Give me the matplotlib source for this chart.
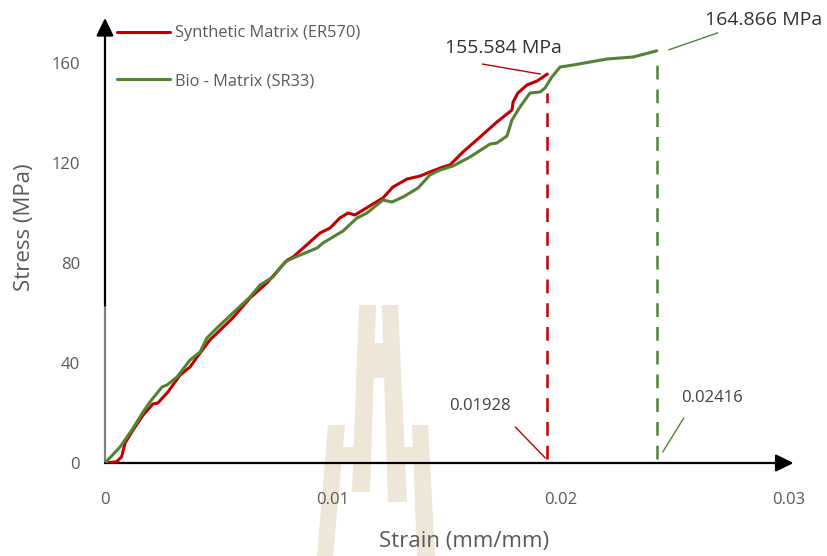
import matplotlib
matplotlib.use("Agg")
import matplotlib.pyplot as plt
import matplotlib.transforms as mtransforms
from matplotlib.patches import Polygon

plt.rcParams['font.family'] = ['Open Sans', 'DejaVu Sans']

# ---------------- data ----------------
syn_strain = [0, 0.00051, 0.00073, 0.00088, 0.00123, 0.00167, 0.0021, 0.00232, 0.00276,
              0.00329, 0.00373, 0.00404, 0.0046, 0.0056, 0.00636, 0.0071, 0.00768, 0.0080,
              0.00825, 0.00943, 0.00987, 0.0103, 0.01066, 0.01096, 0.01132, 0.01175,
              0.01219, 0.01263, 0.01325, 0.01382, 0.01425, 0.01482, 0.01513, 0.0157,
              0.01645, 0.01719, 0.01785, 0.0179, 0.01811, 0.01851, 0.01895, 0.0194]
syn_stress = [0, 0.5, 2.5, 8, 13.2, 19.2, 23.6, 24, 28.4,
              35.2, 38.4, 42.4, 49.2, 58, 66, 72, 78, 81.2,
              82.4, 92, 94, 98, 100, 99.2, 101.2, 103.6,
              106, 110.4, 113.6, 114.8, 116.4, 118.4, 119.2, 124.4,
              130.4, 136.4, 141.2, 144.4, 148, 151.2, 152.8, 155.584]

bio_strain = [0, 0.00066, 0.00118, 0.00167, 0.00197, 0.0025, 0.00272, 0.00316, 0.00373,
              0.00417, 0.00447, 0.00491, 0.00561, 0.00636, 0.0068, 0.00737, 0.00789,
              0.00825, 0.0093, 0.00956, 0.01044, 0.01105, 0.01149, 0.01219, 0.01259,
              0.01307, 0.01373, 0.01425, 0.01469, 0.01526, 0.01601, 0.01689, 0.01719,
              0.01763, 0.01785, 0.0182, 0.01864, 0.01908, 0.0193, 0.0196, 0.01996,
              0.02053, 0.02202, 0.02316, 0.0242]
bio_stress = [0, 6.4, 13.2, 20.4, 24.4, 30.4, 31.2, 34.4, 41.2,
              44.4, 50, 54, 60, 66.4, 71.2, 74.4, 80.4,
              82, 86, 88, 92.8, 98, 100, 105.2, 104.4,
              106.4, 110, 115.2, 117.2, 118.8, 122.4, 127.6, 128,
              130.8, 137.2, 142.4, 148, 148.4, 150, 154.4, 158.4,
              159.2, 161.6, 162.4, 164.866]

series_names = ["Synthetic Matrix (ER570)", "Bio - Matrix (SR33)"]
x_ticks = [0, 0.01, 0.02, 0.03]
x_tick_labels = ["0", "0.01", "0.02", "0.03"]
y_ticks = [0, 40, 80, 120, 160]
y_tick_labels = ["0", "40", "80", "120", "160"]
peak_labels = ["155.584 MPa", "164.866 MPa"]
strain_labels = ["0.01928", "0.02416"]
drop_tops = [148, 160]

RED = '#C00000'
GREEN = '#548235'
GRAY = '#595959'
DARK = '#303030'

W, H = 827, 556
fig = plt.figure(figsize=(W / 100, H / 100), dpi=100)

# watermark (decorative, figure pixel coordinates)
def px(pts):
    return [(x / W, 1 - y / H) for x, y in pts]

wm = '#EEE6D7'
shapes = [
    [(359, 305), (376, 305), (370, 492), (352, 492)],
    [(382, 305), (398, 305), (407, 502), (388, 502)],
    [(374, 343), (384, 343), (384, 378), (374, 378)],
    [(328, 425), (345, 425), (333, 556), (317, 556)],
    [(412, 425), (428, 425), (435, 556), (417, 556)],
    [(340, 447), (358, 447), (358, 462), (340, 462)],
    [(398, 447), (416, 447), (416, 462), (398, 462)],
]
for s in shapes:
    fig.patches.append(Polygon(px(s), closed=True, transform=fig.transFigure,
                               facecolor=wm, edgecolor='none', zorder=-5))

xmax, ymax = 0.0302, 178
left = 105 / W
bottom = (H - 463) / H
width_px = 0.0302 * 22800
height_px = 178 * 2.5
ax = fig.add_axes([left, bottom, width_px / W, height_px / H])
ax.set_zorder(1)
ax.patch.set_alpha(0)
ax.set_xlim(0, xmax)
ax.set_ylim(0, ymax)
for sp in ax.spines.values():
    sp.set_visible(False)

ax.set_xticks(x_ticks)
ax.set_xticklabels(x_tick_labels)
ax.set_yticks(y_ticks)
ax.set_yticklabels(y_tick_labels)
ax.tick_params(axis='both', length=0, labelsize=12, labelcolor=GRAY)
ax.tick_params(axis='x', pad=21)
ax.tick_params(axis='y', pad=18)

xl = ax.set_xlabel("Strain (mm/mm)", fontsize=16, color=GRAY)
yl = ax.set_ylabel("Stress (MPa)", fontsize=16, color=GRAY)
ax.xaxis.set_label_coords((464 - 105) / width_px, (463 - 542) / height_px)
ax.yaxis.set_label_coords((24 - 105) / width_px, (463 - 227) / height_px)
xl.set_va('center')
yl.set_va('center')
yl.set_ha('center')

# axes with arrows
ax.plot([0, 0], [0, 63], color='#7F7F7F', lw=1.6, clip_on=False, zorder=3)
ax.annotate('', xy=(0, 1), xycoords='axes fraction', xytext=(0, 63), textcoords='data',
            arrowprops=dict(arrowstyle='-|>,head_length=0.45,head_width=0.22', color='black',
                            lw=1.6, mutation_scale=24, shrinkA=0, shrinkB=0), zorder=3)
ax.annotate('', xy=(1, 0), xycoords='axes fraction', xytext=(0, 0), textcoords='data',
            arrowprops=dict(arrowstyle='-|>,head_length=0.45,head_width=0.22', color='black',
                            lw=1.6, mutation_scale=24, shrinkA=0, shrinkB=0), zorder=3)

# curves
ax.plot(syn_strain, syn_stress, color=RED, lw=2.2, label=series_names[0], zorder=4,
        solid_joinstyle='round', solid_capstyle='round')
ax.plot(bio_strain, bio_stress, color=GREEN, lw=2.2, label=series_names[1], zorder=4,
        solid_joinstyle='round', solid_capstyle='round')

# drop lines
for xs, c, top in [(syn_strain, RED, drop_tops[0]), (bio_strain, GREEN, drop_tops[1])]:
    ax.plot([xs[-1], xs[-1]], [1.6, top], color=c, lw=1.8, linestyle=(0, (5.5, 4)), zorder=3)

red_pk = (syn_strain[-1], syn_stress[-1])
grn_pk = (bio_strain[-1], bio_stress[-1])


def segment(pt, a, b, c):
    off1 = mtransforms.offset_copy(ax.transData, fig=fig, x=a[0], y=a[1], units='dots')
    off2 = mtransforms.offset_copy(ax.transData, fig=fig, x=b[0], y=b[1], units='dots')
    ax.annotate('', xy=pt, xycoords=off2, xytext=pt, textcoords=off1,
                arrowprops=dict(arrowstyle='-', color=c, lw=1.0, shrinkA=0, shrinkB=0),
                annotation_clip=False)


segment(red_pk, (-65, 10), (-7, 0), RED)
segment(grn_pk, (12, 1), (61, 18), GREEN)
ax.annotate(peak_labels[0], xy=red_pk, xytext=(-44, 26), textcoords='offset pixels',
            ha='center', va='center', fontsize=14, color=DARK, annotation_clip=False)
ax.annotate(peak_labels[1], xy=grn_pk, xytext=(107, 31), textcoords='offset pixels',
            ha='center', va='center', fontsize=14, color=DARK, annotation_clip=False)

red_base = (syn_strain[-1], 0)
grn_base = (bio_strain[-1], 0)
segment(red_base, (-32, 36), (-2, 5), RED)
segment(grn_base, (6, 11), (27, 45), GREEN)
ax.annotate(strain_labels[0], xy=red_base, xytext=(-67, 57), textcoords='offset pixels',
            ha='center', va='center', fontsize=12, color='#404040', annotation_clip=False)
ax.annotate(strain_labels[1], xy=grn_base, xytext=(55, 65), textcoords='offset pixels',
            ha='center', va='center', fontsize=12, color='#404040', annotation_clip=False)

leg = ax.legend(loc='upper left', bbox_to_anchor=((119 - 105) / width_px - 0.012, 0.998),
                frameon=False, fontsize=11.8, handlelength=3.2, handletextpad=0.3,
                labelspacing=1.93, borderaxespad=0.0)
for t in leg.get_texts():
    t.set_color(GRAY)
for l in leg.get_lines():
    l.set_linewidth(2.2)

fig.savefig("out.png", dpi=100)
